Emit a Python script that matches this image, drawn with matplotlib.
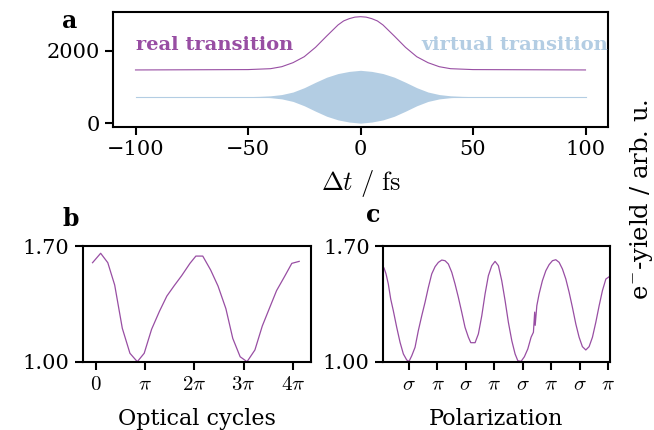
import numpy as np
import matplotlib
matplotlib.use("Agg")
import matplotlib.pyplot as plt

plt.rcParams["font.family"] = ["DejaVu Serif"]
plt.rcParams["mathtext.fontset"] = "cm"
plt.rcParams["font.size"] = 15

PURPLE = "#984ea3"
BLUE = "#b3cde3"

# panel a: delay scans (fs)
t_real = [-100, -50, -40, -35, -30, -25, -20, -15, -10, -7.5, -5, -2.5, 0,
          2.5, 5, 7.5, 10, 15, 20, 25, 30, 35, 40, 50, 100]
real_yield = [1475, 1485, 1510, 1565, 1676, 1841, 2100, 2414, 2718, 2830, 2893, 2935, 2947,
              2935, 2893, 2830, 2718, 2414, 2100, 1841, 1676, 1565, 1510, 1485, 1475]

t_virt = [-100, -60, -50, -45, -40, -35, -30, -25, -20, -15, -10, -5, 0,
          5, 10, 15, 20, 25, 30, 35, 40, 45, 50, 60, 100]
virt_centre = 735
virt_amp = [0, 0, 3, 10, 25, 60, 130, 250, 400, 540, 640, 700, 730,
            700, 640, 540, 400, 250, 130, 60, 25, 10, 3, 0, 0]

# panel b: optical cycles (units of pi)
cycles = [-0.07, 0.095, 0.24, 0.38, 0.535, 0.69, 0.84, 0.98, 1.13, 1.29, 1.44,
          1.59, 1.74, 1.91, 2.03, 2.17, 2.33, 2.48, 2.64, 2.78, 2.93, 3.07,
          3.23, 3.38, 3.53, 3.67, 3.83, 3.98, 4.13]
cycles_yield = [1.599, 1.656, 1.599, 1.464, 1.202, 1.051, 1.0, 1.051, 1.196, 1.305,
                1.397, 1.46, 1.52, 1.595, 1.639, 1.639, 1.555, 1.458, 1.321, 1.141,
                1.03, 1.0, 1.071, 1.216, 1.327, 1.43, 1.514, 1.595, 1.607]

# panel c: polarization (waveplate angle, deg)
pol_angle = [5.4, 8.6, 12.2, 16.0, 20.1, 25.5, 30.8, 36.0, 41.4, 45.0, 49.3, 54.5,
             59.7, 65.1, 70.3, 75.6, 80.9, 86.2, 91.4, 96.8, 102.0, 107.2, 112.6,
             117.8, 123.0, 128.4, 133.6, 138.9, 142.7, 149.5, 154.7, 160.1, 165.3,
             170.5, 175.9, 181.1, 186.4, 191.7, 197.0, 202.2, 207.6, 212.8, 217.1,
             222.3, 227.5, 232.9, 238.1, 241.8, 243.8, 244.6, 247.2, 250.8, 256.0,
             261.4, 266.6, 271.9, 277.2, 282.5, 287.7, 293.1, 298.3, 303.5, 308.9,
             314.1, 319.3, 324.7, 329.9, 335.2, 340.5, 345.8, 351.0, 356.4, 361.6]
pol_yield = [1.567, 1.531, 1.47, 1.379, 1.309, 1.208, 1.117, 1.047, 1.010, 1.002,
             1.036, 1.087, 1.188, 1.278, 1.359, 1.45, 1.531, 1.575, 1.601, 1.615,
             1.611, 1.591, 1.541, 1.47, 1.39, 1.299, 1.208, 1.148, 1.115, 1.115,
             1.168, 1.278, 1.41, 1.52, 1.581, 1.607, 1.581, 1.49, 1.369, 1.238,
             1.127, 1.047, 1.006, 1.002, 1.03, 1.077, 1.148, 1.178, 1.30, 1.22,
             1.339, 1.41, 1.49, 1.55, 1.587, 1.611, 1.617, 1.601, 1.561, 1.5,
             1.42, 1.329, 1.228, 1.148, 1.091, 1.071, 1.091, 1.148, 1.238, 1.339,
             1.43, 1.5, 1.514]
pol_ticks = [45, 90, 135, 180, 225, 270, 315, 360]
pol_labels = [r"$\sigma$", r"$\pi$"] * 4

W, H = 654, 430
fig = plt.figure(figsize=(W / 100, H / 100), dpi=100)


def box(l, t, r, b):
    return [l / W, 1 - b / H, (r - l) / W, (b - t) / H]


def style(ax):
    for s in ax.spines.values():
        s.set_linewidth(1.5)
    ax.tick_params(width=1.5, length=6)


# a
ax_a = fig.add_axes(box(113, 11.7, 608, 127.3))
style(ax_a)
ax_a.plot(t_real, real_yield, color=PURPLE, lw=0.8)
lo = [virt_centre - a for a in virt_amp]
hi = [virt_centre + a for a in virt_amp]
ax_a.fill_between(t_virt, lo, hi, color=BLUE, lw=0)
ax_a.plot(t_virt, [virt_centre] * len(t_virt), color=BLUE, lw=0.8)
ax_a.set_xlim(-110, 110)
ax_a.set_ylim(-110, 3085)
ax_a.set_yticks([0, 2000])
ax_a.set_xticks([-100, -50, 0, 50, 100])
ax_a.set_xlabel(r"$\Delta t\ /\ \mathrm{fs}$", fontsize=19, labelpad=6)
ax_a.text(-100, 2165, "real transition", color=PURPLE, fontweight="bold",
          fontsize=14, va="center", ha="left")
ax_a.text(110, 2165, "virtual transition", color=BLUE, fontweight="bold",
          fontsize=14, va="center", ha="right")

# b
ax_b = fig.add_axes(box(82.7, 246, 311, 361.7))
style(ax_b)
ax_b.plot(np.array(cycles) * np.pi, cycles_yield, color=PURPLE, lw=0.9)
ax_b.set_xlim(-0.27 * np.pi, 4.37 * np.pi)
ax_b.set_ylim(1.0, 1.7)
ax_b.set_yticks([1.0, 1.7])
ax_b.set_yticklabels(["1.00", "1.70"])
ax_b.set_xticks(np.arange(5) * np.pi)
ax_b.set_xticklabels([r"$0$", r"$\pi$", r"$2\pi$", r"$3\pi$", r"$4\pi$"])
ax_b.set_xlabel("Optical cycles", fontsize=16, labelpad=10)

# c
ax_c = fig.add_axes(box(383, 246, 609.7, 361.7))
style(ax_c)
ax_c.plot(pol_angle, pol_yield, color=PURPLE, lw=0.9)
ax_c.set_xlim(3.8, 362.5)
ax_c.set_ylim(1.0, 1.7)
ax_c.set_yticks([1.0, 1.7])
ax_c.set_yticklabels(["1.00", "1.70"])
ax_c.set_xticks(pol_ticks)
ax_c.set_xticklabels(pol_labels)
ax_c.set_xlabel("Polarization", fontsize=16, labelpad=10)

fig.text(62 / W, 1 - 28 / H, "a", fontweight="bold", fontsize=17, va="baseline")
fig.text(62.7 / W, 1 - 226 / H, "b", fontweight="bold", fontsize=17, va="baseline")
fig.text(366 / W, 1 - 222 / H, "c", fontweight="bold", fontsize=17, va="baseline")
fig.text(641.7 / W, 1 - 199 / H, r"e$^{-}$-yield / arb. u.", rotation=90,
         ha="center", va="center", fontsize=17.5)

fig.savefig("out.png", dpi=100)
